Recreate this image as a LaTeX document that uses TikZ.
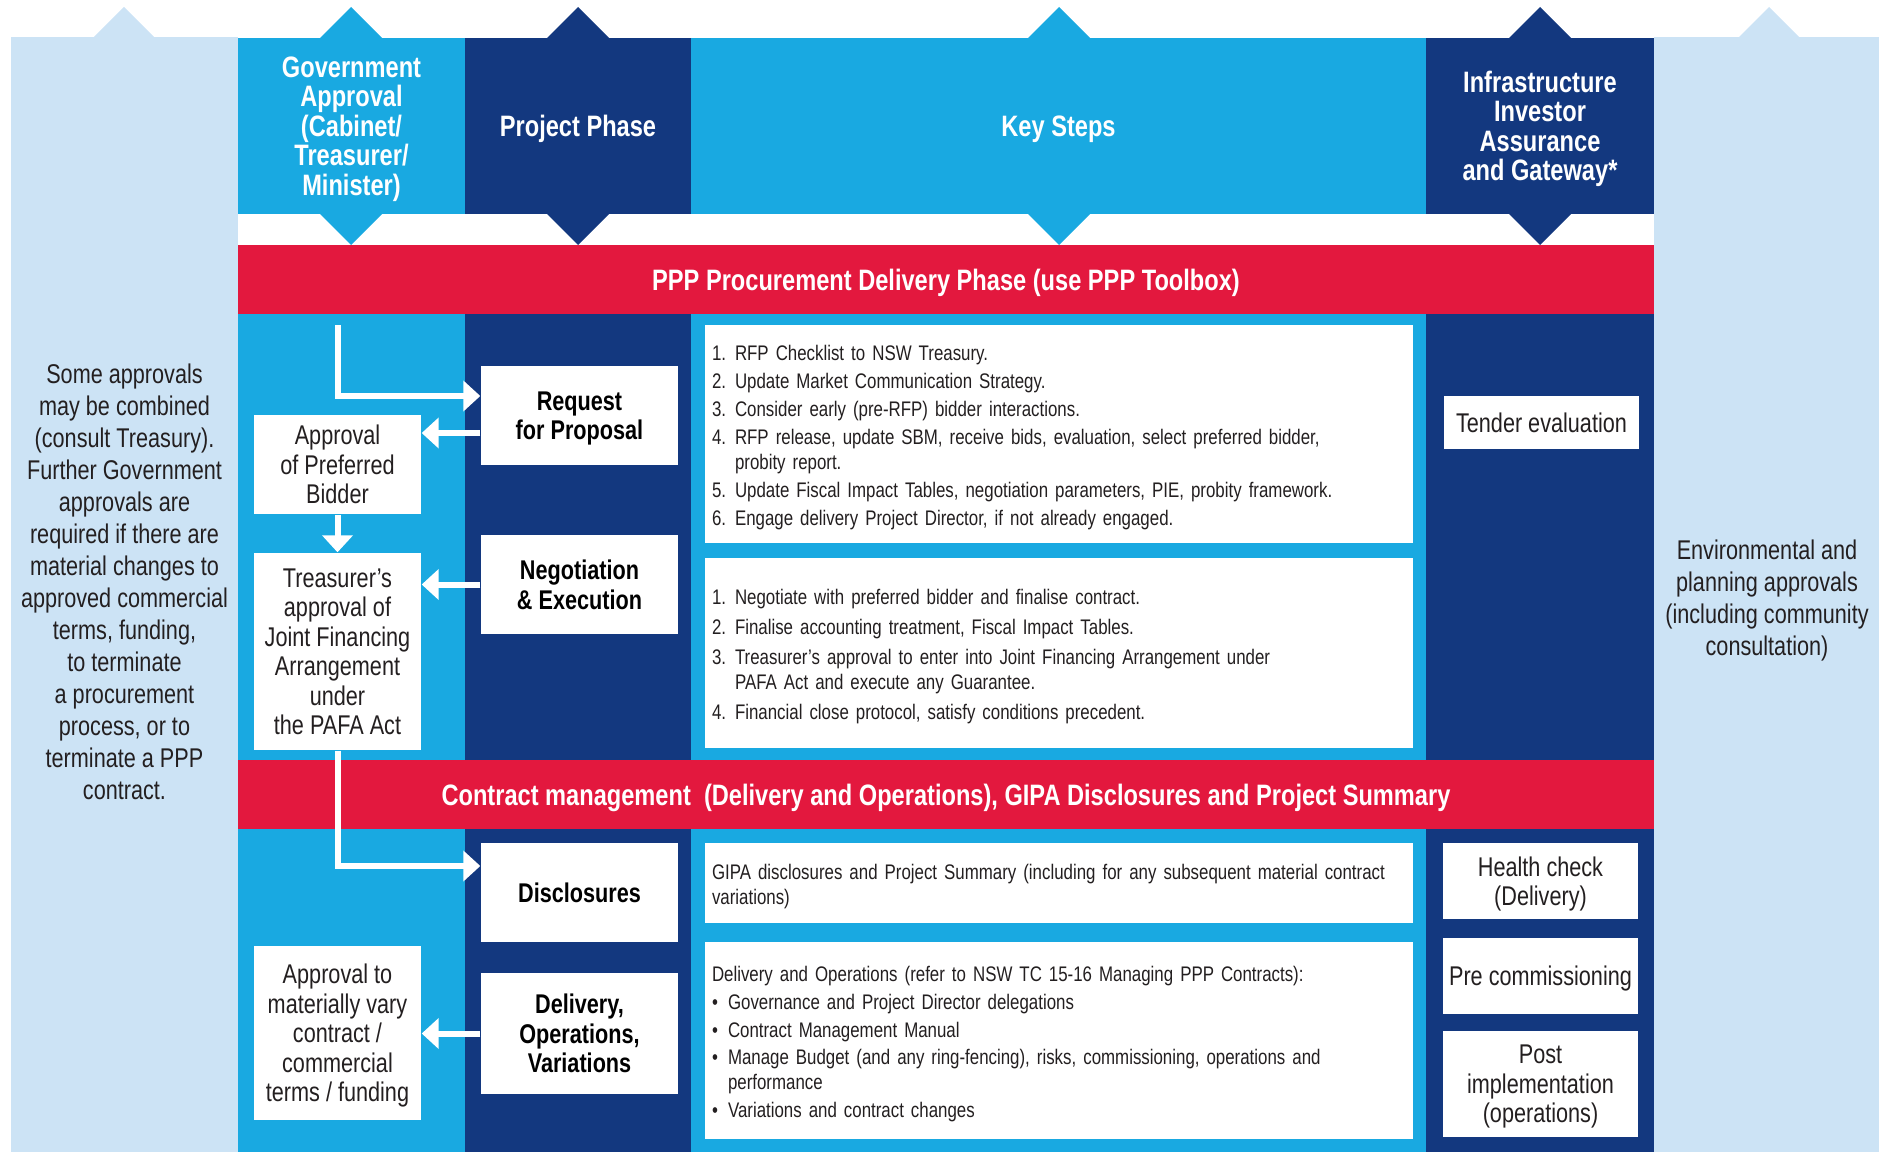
\documentclass[tikz,border=0pt]{standalone}
\usepackage{fontspec}
\setmainfont{Liberation Sans}[FakeStretch=0.8]
\usetikzlibrary{arrows.meta,positioning,calc}
\definecolor{sidelight}{HTML}{CCE3F5}
\definecolor{midblue}{HTML}{19A9E1}
\definecolor{navyblue}{HTML}{13387F}
\definecolor{pppred}{HTML}{E3183E}
\definecolor{bodygray}{HTML}{231F20}
\newcommand{\ksnum}[1]{\makebox[2.3mm][l]{#1}}
\newcommand{\ksdot}{\makebox[1.6mm][l]{\textbullet}}

\begin{document}
\begin{tikzpicture}[
  every node/.style={align=center, inner sep=0pt},
  colhead/.style={rectangle, minimum height=1.76cm, text=white, text depth=0pt,
                  font=\fontsize{8.4}{8.4}\selectfont\bfseries},
  redband/.style={rectangle, fill=pppred, minimum width=14.16cm,
                  minimum height=0.69cm, text=white, text depth=0pt,
                  font=\fontsize{8.4}{8.4}\selectfont\bfseries},
  phasebox/.style={rectangle, fill=white, minimum width=1.97cm, text=black,
                   text depth=0pt, font=\fontsize{7.7}{8.4}\selectfont\bfseries},
  govbox/.style={rectangle, fill=white, minimum width=1.67cm, text=bodygray,
                 text depth=0pt, font=\fontsize{7.7}{8.4}\selectfont},
  stepbox/.style={rectangle, fill=white, minimum width=7.08cm,
                  text width=6.94cm, align=left, text=bodygray,
                  font=\fontsize{6}{7.1}\selectfont,
                  execute at begin node={\rule{0pt}{1.07em}}},
  gatebox/.style={rectangle, fill=white, minimum width=1.95cm, text=bodygray,
                  text depth=0pt, font=\fontsize{7.7}{8.4}\selectfont},
  sidetext/.style={text=bodygray, text depth=0pt,
                   font=\fontsize{7.7}{9.1}\selectfont},
  flow/.style={draw=white, line width=0.06cm,
               -{Triangle[width=0.30cm,length=0.17cm]}},
  >=Latex
]
\useasboundingbox (0,0) rectangle (18.79,-11.52);

% ---- Column backgrounds -------------------------------------------------------
\fill[sidelight] (0.11,-0.37) rectangle (2.38,-11.52);
\fill[sidelight] (16.54,-0.37) rectangle (18.79,-11.52);
\fill[midblue]  (2.38,-2.45) rectangle (4.65,-11.52);
\fill[navyblue] (4.65,-2.45) rectangle (6.91,-11.52);
\fill[midblue]  (6.91,-2.45) rectangle (14.26,-11.52);
\fill[navyblue] (14.26,-2.45) rectangle (16.54,-11.52);

% ---- Column headers -----------------------------------------------------------
\node[colhead, fill=midblue, minimum width=2.27cm] (govhead) at (3.515,-1.26)
  {Government\\ Approval\\ (Cabinet/\\ Treasurer/\\ Minister)};
\node[colhead, fill=navyblue, minimum width=2.26cm] (phasehead) at (5.78,-1.26)
  {Project Phase};
\node[colhead, fill=midblue, minimum width=7.35cm] (stepshead) at (10.585,-1.26)
  {Key Steps};
\node[colhead, fill=navyblue, minimum width=2.28cm] (gatehead) at (15.40,-1.26)
  {Infrastructure\\ Investor\\ Assurance\\ and Gateway*};

% Pointers above and below the headers
\foreach \cx/\cc in {1.24/sidelight, 3.51/midblue, 5.78/navyblue,
                     10.59/midblue, 15.40/navyblue, 17.69/sidelight}
  \fill[\cc] (\cx-0.31,-0.38) -- (\cx,-0.07) -- (\cx+0.31,-0.38) -- cycle;
\foreach \cx/\cc in {3.51/midblue, 5.78/navyblue, 10.59/midblue, 15.40/navyblue}
  \fill[\cc] (\cx-0.32,-2.13) -- (\cx,-2.45) -- (\cx+0.32,-2.13) -- cycle;

% ---- Phase bands --------------------------------------------------------------
\node[redband] (procband) at (9.46,-2.795)
  {PPP Procurement Delivery Phase (use PPP Toolbox)};
\node[redband] (cmband) at (9.46,-7.945)
  {Contract management\ \ (Delivery and Operations), GIPA Disclosures and Project Summary};

% ---- Side notes ---------------------------------------------------------------
\node[sidetext] (govnote) at (1.245,-5.82) {%
  Some approvals\\ may be combined\\ (consult Treasury).\\ Further Government\\
  approvals are\\ required if there are\\ material changes to\\
  approved commercial\\ terms, funding,\\ to terminate\\ a procurement\\
  process, or to\\ terminate a PPP\\ contract.};
\node[sidetext] (envnote) at (17.67,-5.98) {%
  Environmental and\\ planning approvals\\ (including community\\ consultation)};

% ---- Government approvals -----------------------------------------------------
\node[govbox, minimum height=0.99cm] (prefbidder) at (3.375,-4.645)
  {Approval\\ of Preferred\\ Bidder};
\node[govbox, minimum height=1.97cm] (jfaapproval) at (3.375,-6.515)
  {Treasurer’s\\ approval of\\ Joint Financing\\ Arrangement\\ under\\ the PAFA Act};
\node[govbox, minimum height=1.74cm] (varyapproval) at (3.375,-10.33)
  {Approval to\\ materially vary\\ contract /\\ commercial\\ terms / funding};

% ---- Project phases -----------------------------------------------------------
\node[phasebox, minimum height=0.99cm] (rfp) at (5.795,-4.155)
  {Request\\ for Proposal};
\node[phasebox, minimum height=0.99cm] (negexec) at (5.795,-5.845)
  {Negotiation\\ \& Execution};
\node[phasebox, minimum height=0.99cm] (disclose) at (5.795,-8.925)
  {Disclosures};
\node[phasebox, minimum height=1.21cm] (delivery) at (5.795,-10.335)
  {Delivery,\\ Operations,\\ Variations};

% ---- Key steps ----------------------------------------------------------------
\node[stepbox, minimum height=2.18cm] (rfpsteps) at (10.59,-4.34) {%
  \ksnum{1.}RFP Checklist to NSW Treasury.\\[0.9pt]
  \ksnum{2.}Update Market Communication Strategy.\\[0.9pt]
  \ksnum{3.}Consider early (pre-RFP) bidder interactions.\\[0.9pt]
  \ksnum{4.}RFP release, update SBM, receive bids, evaluation, select preferred bidder,\\
  \ksnum{}probity report.\\[0.9pt]
  \ksnum{5.}Update Fiscal Impact Tables, negotiation parameters, PIE, probity framework.\\[0.9pt]
  \ksnum{6.}Engage delivery Project Director, if not already engaged.};
\node[stepbox, minimum height=1.90cm] (negsteps) at (10.59,-6.53) {%
  \ksnum{1.}Negotiate with preferred bidder and finalise contract.\\[1.4pt]
  \ksnum{2.}Finalise accounting treatment, Fiscal Impact Tables.\\[1.4pt]
  \ksnum{3.}Treasurer’s approval to enter into Joint Financing Arrangement under\\
  \ksnum{}PAFA Act and execute any Guarantee.\\[1.4pt]
  \ksnum{4.}Financial close protocol, satisfy conditions precedent.};
\node[stepbox, minimum height=0.80cm] (gipasteps) at (10.59,-8.83) {%
  GIPA disclosures and Project Summary (including for any subsequent material contract\\
  variations)};
\node[stepbox, minimum height=1.97cm] (opsteps) at (10.59,-10.405) {%
  Delivery and Operations (refer to NSW TC 15-16 Managing PPP Contracts):\\[0.8pt]
  \ksdot Governance and Project Director delegations\\[0.8pt]
  \ksdot Contract Management Manual\\[0.8pt]
  \ksdot Manage Budget (and any ring-fencing), risks, commissioning, operations and\\
  \makebox[1.6mm]{}performance\\[0.8pt]
  \ksdot Variations and contract changes};

% ---- Assurance and gateway reviews --------------------------------------------
\node[gatebox, minimum height=0.53cm] (tender) at (15.415,-4.225)
  {Tender evaluation};
\node[gatebox, minimum height=0.76cm] (healthcheck) at (15.405,-8.81)
  {Health check\\ (Delivery)};
\node[gatebox, minimum height=0.76cm] (precomm) at (15.405,-9.76)
  {Pre commissioning};
\node[gatebox, minimum height=1.06cm] (postimpl) at (15.405,-10.84)
  {Post\\ implementation\\ (operations)};

% ---- Flow arrows --------------------------------------------------------------
\coordinate (govstart) at (3.375,-3.25);
\draw[flow] (govstart) |- ([yshift=0.195cm]rfp.west);
\draw[flow] ([yshift=-0.175cm]rfp.west) -- ([yshift=-0.175cm]rfp.west -| prefbidder.east);
\draw[flow] (prefbidder.south) -- (jfaapproval.north);
\draw[flow] (negexec.west) -- (negexec.west -| jfaapproval.east);
\draw[flow] (jfaapproval.south) |- ([yshift=0.265cm]disclose.west);
\draw[flow] (delivery.west) -- (delivery.west -| varyapproval.east);

\end{tikzpicture}
\end{document}
